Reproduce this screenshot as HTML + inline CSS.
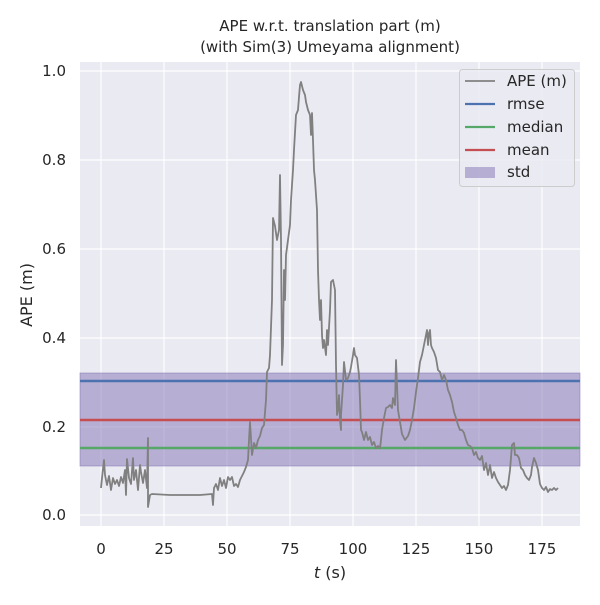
<!DOCTYPE html>
<html><head><meta charset="utf-8"><style>body{margin:0;background:#fff}</style></head><body>
<svg width="600" height="600" xmlns="http://www.w3.org/2000/svg" font-family="DejaVu Sans, Liberation Sans, sans-serif">
<rect width="600" height="600" fill="#fff"/>
<rect x="80" y="62" width="500" height="464" fill="#eaeaf2"/>
<g stroke="#fff" stroke-width="1.2">
<line x1="101" y1="62" x2="101" y2="526"/><line x1="164" y1="62" x2="164" y2="526"/><line x1="227" y1="62" x2="227" y2="526"/><line x1="290" y1="62" x2="290" y2="526"/><line x1="353" y1="62" x2="353" y2="526"/><line x1="416" y1="62" x2="416" y2="526"/><line x1="479" y1="62" x2="479" y2="526"/><line x1="542" y1="62" x2="542" y2="526"/>
<line x1="80" y1="515" x2="580" y2="515"/><line x1="80" y1="427" x2="580" y2="427"/><line x1="80" y1="338" x2="580" y2="338"/><line x1="80" y1="249" x2="580" y2="249"/><line x1="80" y1="160" x2="580" y2="160"/><line x1="80" y1="71" x2="580" y2="71"/>
</g>
<rect x="80" y="373" width="500" height="93" fill="#8172b3" fill-opacity="0.5" stroke="#8172b3" stroke-opacity="0.5"/>
<line x1="80" y1="381" x2="580" y2="381" stroke="#4c72b0" stroke-width="2.4"/>
<line x1="80" y1="420" x2="580" y2="420" stroke="#c44e52" stroke-width="2.4"/>
<line x1="80" y1="448" x2="580" y2="448" stroke="#55a868" stroke-width="2.4"/>
<polyline fill="none" stroke="#808080" stroke-width="1.8" stroke-linejoin="round" points="101,488 102,478 104,460 105,475 107,485 109,476 111,490 113,478 115,484 117,480 119,486 121,477 123,483 125,470 126,495 127,459 129,478 131,484 133,458 134,480 136,470 138,490 140,465 141,472 143,483 145,470 147,488 148,438 148,507 150,495 152,494 170,495 200,495 212,494 213,505 214,488 216,484 218,490 220,478 222,486 224,480 226,488 228,477 230,480 232,477 234,486 236,484 238,487 240,480 242,476 244,472 246,467 248,460 249,440 250,422 252,455 254,443 256,448 258,440 260,436 262,428 264,425 266,400 267,372 269,368 270,355 272,300 273,218 275,226 277,240 279,230 280,175 281,240 282,365 283,345 284,270 285,300 286,255 288,240 290,225 291,200 293,170 294,150 296,115 298,110 299,97 300,85 301,82 303,90 305,95 306,102 308,110 310,115 311,135 312,113 313,140 314,170 315,180 317,210 318,270 319,300 320,320 321,300 322,335 323,348 324,340 326,355 327,330 328,345 330,310 331,282 333,280 335,290 336,365 337,415 338,410 339,395 340,420 341,430 341,415 343,385 344,362 346,380 348,378 350,372 351,367 353,355 354,348 355,355 357,358 359,375 360,400 361,430 362,432 364,440 366,432 368,440 370,437 372,445 374,442 376,448 378,446 380,448 381,440 382,430 384,418 386,408 388,407 390,405 392,408 393,398 395,405 396,360 397,385 398,410 400,422 402,434 405,440 408,436 410,430 412,420 414,408 416,392 418,378 420,362 422,355 424,345 426,335 427,330 428,345 429,333 430,330 431,345 432,348 434,352 436,358 438,370 440,372 442,380 444,375 446,380 448,390 450,395 452,402 454,412 456,418 458,425 460,430 462,430 464,433 466,440 468,445 470,446 472,448 474,455 476,452 478,458 480,460 482,456 484,470 486,463 488,475 490,465 492,478 494,472 496,478 498,482 500,485 502,488 504,486 506,490 508,485 510,470 512,445 514,443 515,455 517,455 519,458 521,468 523,470 525,475 527,478 529,480 531,475 532,467 534,458 536,463 538,470 540,484 542,488 544,490 546,487 548,492 550,489 552,490 554,488 556,490 558,488"/>
<g font-size="15" fill="#262626">
<text x="330" y="31" text-anchor="middle">APE w.r.t. translation part (m)</text>
<text x="330" y="52" text-anchor="middle">(with Sim(3) Umeyama alignment)</text>
<g text-anchor="end"><text x="66" y="520">0.0</text><text x="66" y="432">0.2</text><text x="66" y="343">0.4</text><text x="66" y="254">0.6</text><text x="66" y="165">0.8</text><text x="66" y="76">1.0</text></g>
<g text-anchor="middle"><text x="101" y="554">0</text><text x="164" y="554">25</text><text x="227" y="554">50</text><text x="290" y="554">75</text><text x="353" y="554">100</text><text x="416" y="554">125</text><text x="479" y="554">150</text><text x="542" y="554">175</text></g>
<text x="330" y="578" text-anchor="middle" font-size="16"><tspan font-style="italic">t</tspan> (s)</text>
<text transform="translate(32,295) rotate(-90)" text-anchor="middle" font-size="16">APE (m)</text>
</g>
<rect x="459.5" y="69.5" width="115" height="117" rx="3" fill="#eaeaf2" fill-opacity="0.8" stroke="#ccc"/>
<g stroke-width="2.2"><line x1="465" y1="81" x2="495" y2="81" stroke="#808080" stroke-width="1.8"/><line x1="465" y1="104" x2="495" y2="104" stroke="#4c72b0"/><line x1="465" y1="127" x2="495" y2="127" stroke="#55a868"/><line x1="465" y1="150" x2="495" y2="150" stroke="#c44e52"/></g>
<rect x="465" y="167" width="30" height="11" fill="#8172b3" fill-opacity="0.5"/>
<g font-size="15" fill="#262626"><text x="507" y="86">APE (m)</text><text x="507" y="109">rmse</text><text x="507" y="132">median</text><text x="507" y="155">mean</text><text x="507" y="177">std</text></g>
</svg>
</body></html>
